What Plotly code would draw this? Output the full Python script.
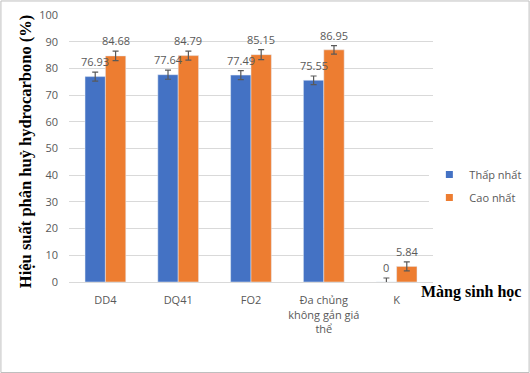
import plotly.graph_objects as go

categories = ["DD4", "DQ41", "FO2", "Đa chủng<br>không gắn giá<br>thể", "K"]
series_names = ["Thấp nhất", "Cao nhất"]
thap_nhat = [76.93, 77.64, 77.49, 75.55, 0]
cao_nhat = [84.68, 84.79, 85.15, 86.95, 5.84]
err_thap = [1.7, 1.7, 1.7, 1.6, 1.5]
err_cao = [1.8, 1.7, 1.9, 1.6, 1.7]
labels_thap = ["76.93", "77.64", "77.49", "75.55", "0"]
labels_cao = ["84.68", "84.79", "85.15", "86.95", "5.84"]

BLUE = "#4472C4"
ORANGE = "#ED7D31"
BARGAP = 0.44
half = (1 - BARGAP) / 4  # offset of each bar centre from category centre

tick_font = dict(family="Open Sans, Liberation Sans, sans-serif", size=11, color="#595959")
label_font = dict(family="Open Sans, Liberation Sans, sans-serif", size=11, color="#595959")

fig = go.Figure()
fig.add_trace(go.Bar(
    name=series_names[0], x=categories, y=thap_nhat, showlegend=False,
    marker_color=BLUE,
    error_y=dict(type="data", array=err_thap, color="#595959", thickness=1.2, width=3),
))
fig.add_trace(go.Bar(
    name=series_names[1], x=categories, y=cao_nhat, showlegend=False,
    marker_color=ORANGE,
    error_y=dict(type="data", array=err_cao, color="#595959", thickness=1.2, width=3),
))
# legend entries with small square swatches
for nm, col, grp in ((series_names[0], BLUE, "a"), (series_names[1], ORANGE, "b")):
    fig.add_trace(go.Scatter(
        name=nm, x=[None], y=[None], mode="markers", legendgroup=grp,
        marker=dict(symbol="square", size=7, color=col), hoverinfo="skip",
    ))

annotations = []
for i in range(len(categories)):
    for vals, errs, labs, off in ((thap_nhat, err_thap, labels_thap, -half),
                                  (cao_nhat, err_cao, labels_cao, half)):
        annotations.append(dict(
            x=i + off, y=vals[i] + errs[i], xref="x", yref="y", text=labs[i],
            showarrow=False, xanchor="center", yanchor="bottom", yshift=1,
            font=label_font,
        ))

annotations += [
    dict(text="<b>Hiệu suất phân huỷ hydrocarbono (%)</b>", textangle=-90,
         xref="paper", yref="paper", x=-0.121, y=0.49, xanchor="center", yanchor="middle",
         showarrow=False,
         font=dict(family="Liberation Serif, Times New Roman, serif", size=16.5, color="black")),
    dict(text="<b>Màng sinh học</b>", xref="paper", yref="paper",
         x=1.247, y=-0.039, xanchor="right", yanchor="middle", showarrow=False,
         font=dict(family="Liberation Serif, Times New Roman, serif", size=16, color="black")),
]

fig.update_layout(
    width=530, height=373,
    margin=dict(l=69, r=97, t=15, b=91, autoexpand=False),
    paper_bgcolor="white", plot_bgcolor="white",
    barmode="group", bargap=BARGAP, bargroupgap=0,
    showlegend=True,
    legend=dict(x=0.99, y=0.457, xanchor="left", yanchor="top", traceorder="grouped",
                tracegroupgap=4, itemwidth=30,
                font=dict(family="Open Sans, Liberation Sans, sans-serif", size=11, color="#595959")),
    yaxis=dict(range=[0, 100], dtick=10, showgrid=True, gridcolor="#D9D9D9", gridwidth=1,
               zeroline=False, showline=False, tickfont=tick_font, ticks="",
               ticklabelstandoff=10),
    xaxis=dict(showline=True, linecolor="#D9D9D9", linewidth=1, tickfont=tick_font, ticks="",
               range=[-0.5, len(categories) - 0.5], ticklabelstandoff=8),
    shapes=[dict(type="rect", xref="paper", yref="paper", x0=-0.187, x1=1.264, y0=-0.339, y1=1.0525,
                 line=dict(color="#BFBFBF", width=1))],
    annotations=annotations,
)
fig.write_html("out.html", config={"displayModeBar": False},
               post_script="document.body.style.margin='0px';")
